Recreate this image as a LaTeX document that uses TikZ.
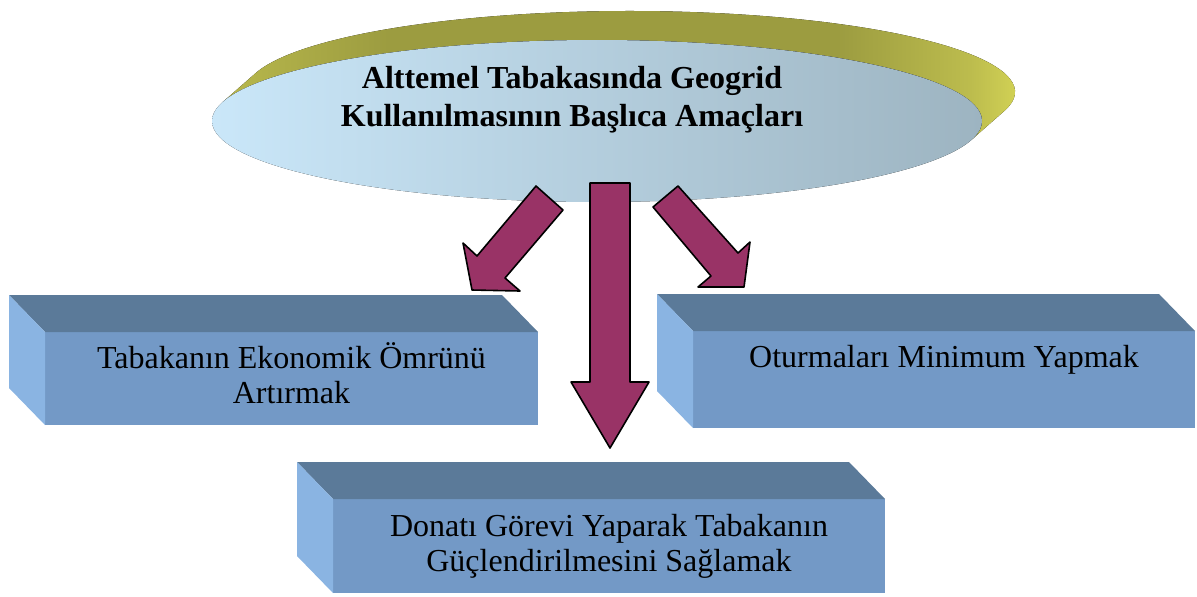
\documentclass[tikz,border=0pt]{standalone}
\usepackage{fontspec}
\setmainfont{Liberation Serif}
\usetikzlibrary{calc}
\definecolor{rimleft}{HTML}{B8B84C}
\definecolor{rimdark}{HTML}{9C9C40}
\definecolor{rimlight}{HTML}{E2E25A}
\definecolor{discleft}{HTML}{CAE7F9}
\definecolor{discright}{HTML}{9DB4C1}
\definecolor{arrowfill}{HTML}{993366}
\definecolor{facefront}{HTML}{7399C6}
\definecolor{facetop}{HTML}{5B7A99}
\definecolor{faceside}{HTML}{8AB4E2}
\pgfdeclarehorizontalshading{rimshade}{100bp}{color(0bp)=(rimleft); color(25bp)=(rimleft);
  color(35bp)=(rimdark); color(62bp)=(rimdark); color(70bp)=(rimleft!90!rimlight); color(75bp)=(rimlight); color(100bp)=(rimlight)}
\tikzset{
  front/.style={fill=facefront,inner sep=0pt,outer sep=0pt,align=center,font=\fontsize{16}{17.5}\selectfont},
  topface/.style={fill=facetop},
  sideface/.style={fill=faceside},
  goalarrow/.style={fill=arrowfill,draw=black,line width=0.8pt},
  goaltext/.style={align=center,font=\fontsize{16}{19}\selectfont\bfseries}
}
% top and left faces of a box, behind its front face
\newcommand{\boxsides}[1]{%
  \fill[topface] (#1.north west) -- ++(-36,37) -- ([shift={(-36,37)}]#1.north east) -- (#1.north east) -- cycle;
  \fill[sideface] (#1.north west) -- ++(-36,37) -- ([shift={(-36,37)}]#1.south west) -- (#1.south west) -- cycle;}
\begin{document}
\begin{tikzpicture}[line cap=round,line join=round,x=0.5pt,y=0.5pt]
\useasboundingbox (0,0) rectangle (1197,-596);
% disc
\coordinate (disc) at (597,-121);
\fill[shading=rimshade]
  ([shift={(-13.46:385 and 81)}]disc) -- ++(33,29)
  arc[start angle=-13.46,end angle=166.54,x radius=385,y radius=81] -- ++(-33,-29)
  arc[start angle=166.54,end angle=-13.46,x radius=385,y radius=81] -- cycle;
\fill[left color=discleft,right color=discright] (disc) ellipse [x radius=385,y radius=81];
\node[goaltext] (goal) at (572,-100) {Alttemel Tabakasında Geogrid\\Kullanılmasının Başlıca Amaçları};
% boxes
\node[front,minimum width=246.5pt,minimum height=46.5pt] (omur) at (291.5,-378.5) {Tabakanın Ekonomik Ömrünü\\Artırmak\\[-12.5pt]};
\boxsides{omur}
\node[front,minimum width=251pt,minimum height=48.5pt] (oturma) at (944,-379.5) {Oturmaları Minimum Yapmak\\\strut};
\boxsides{oturma}
\node[front,minimum width=276pt,minimum height=47pt] (donati) at (609,-546) {Donatı Görevi Yaparak Tabakanın\\Güçlendirilmesini Sağlamak};
\boxsides{donati}
% arrows
\draw[goalarrow] (536,-186) -- (563,-210) -- (505,-278) -- (520,-291) -- (472,-290) -- (463,-243) -- (477,-256) -- cycle;
\draw[goalarrow] (590,-183) -- (630,-183) -- (630,-382) -- (649,-382) -- (610,-448) -- (571,-382) -- (590,-382) -- cycle;
\draw[goalarrow] (678,-186) -- (738,-253) -- (750,-242) -- (744,-287) -- (698,-287) -- (711,-276) -- (653,-207) -- cycle;
\end{tikzpicture}
\end{document}
